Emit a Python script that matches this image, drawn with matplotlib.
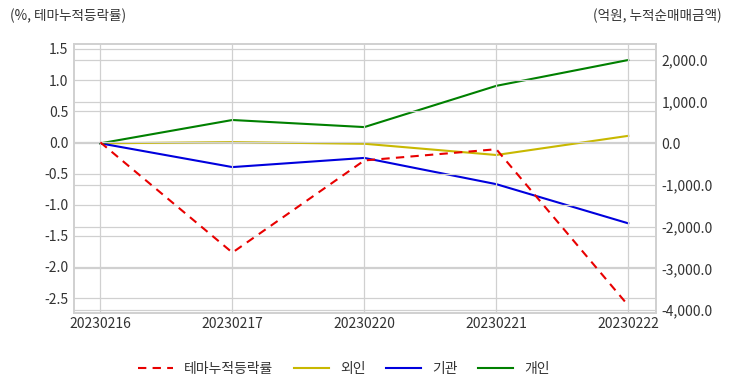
import matplotlib
matplotlib.use("Agg")
import matplotlib.pyplot as plt
from matplotlib.ticker import FuncFormatter

plt.rcParams['font.family'] = ['Noto Sans CJK KR', 'DejaVu Sans']

dates = ["20230216", "20230217", "20230220", "20230221", "20230222"]
theme_rate = [0.0, -1.77, -0.29, -0.11, -2.62]
foreign = [0.0, 30.0, -10.0, -280.0, 180.0]
institution = [0.0, -570.0, -350.0, -980.0, -1920.0]
individual = [0.0, 560.0, 390.0, 1380.0, 2000.0]

left_ticks = [1.5, 1.0, 0.5, 0.0, -0.5, -1.0, -1.5, -2.0, -2.5]
right_ticks = [2000, 1000, 0, -1000, -2000, -3000, -4000]

tc = '#333333'
gc = '#d0d0d0'

fig = plt.figure(figsize=(7.32, 3.92), dpi=100)
ax = fig.add_axes([74/732, 1-313/392, (656-74)/732, (313-44)/392])
ax2 = ax.twinx()

x = list(range(len(dates)))
l1, = ax.plot(x, theme_rate, color='#e80000', ls=(0, (4, 3)), lw=1.5, label='테마누적등락률')
l2, = ax2.plot(x, foreign, color='#c8b800', lw=1.5, label='외인')
l3, = ax2.plot(x, institution, color='#0000dd', lw=1.5, label='기관')
l4, = ax2.plot(x, individual, color='#008000', lw=1.5, label='개인')

ax.set_xlim(-0.2, 4.21)
ax.set_ylim(-2.74, 1.58)
ax2.set_ylim(-4072, 2384)
ax.set_xticks(x)
ax.set_xticklabels(dates)
ax.set_yticks(left_ticks)
ax.set_yticklabels([f"{v:.1f}" for v in left_ticks])
ax2.set_yticks(right_ticks)
ax2.yaxis.set_major_formatter(FuncFormatter(lambda v, p: f"{v:,.1f}"))

for a in (ax, ax2):
    a.tick_params(length=0, labelsize=10, colors=tc, pad=4)
    for s in a.spines.values():
        s.set_color(gc)
        s.set_linewidth(1.2)
ax.tick_params(axis='x', pad=3)
ax.grid(True, color=gc, lw=0.9)
ax2.grid(True, axis='y', color=gc, lw=0.9)
ax.set_axisbelow(True)
ax2.set_axisbelow(True)
ax.set_zorder(ax2.get_zorder() + 1)
ax.patch.set_visible(False)
ax2.patch.set_visible(True)

fig.text(10/732, 1-16/392, '(%, 테마누적등락률)', fontsize=9.8, color=tc, va='center', ha='left')
fig.text(722/732, 1-16/392, '(억원, 누적순매매금액)', fontsize=9.8, color=tc, va='center', ha='right')

fig.legend(handles=[l1, l2, l3, l4], loc='center', bbox_to_anchor=(344/732, 1-369/392),
           ncol=4, frameon=False, fontsize=10, handlelength=2.5, columnspacing=1.5,
           labelcolor=tc)

fig.savefig('out.png', dpi=100)
